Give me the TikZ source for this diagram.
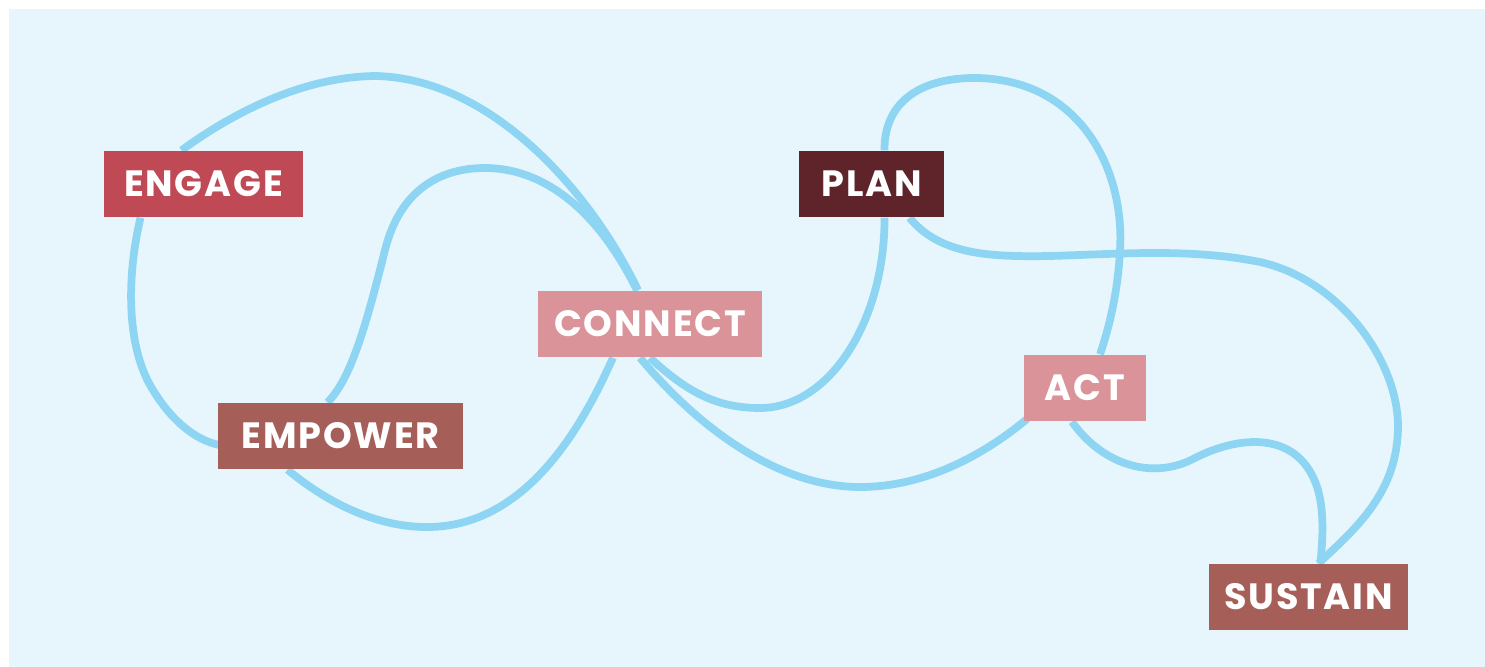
\documentclass[tikz,border=0pt]{standalone}
\usepackage{fontspec}
\newfontfamily\stagefont{Poppins}[LetterSpace=5]
\usetikzlibrary{backgrounds}
\definecolor{bgblue}{HTML}{E7F6FC}
\definecolor{rope}{HTML}{8DD5F2}
\definecolor{engagered}{HTML}{BF4A55}
\definecolor{brickred}{HTML}{A65F58}
\definecolor{rosepink}{HTML}{DA9398}
\definecolor{wine}{HTML}{5E242A}
\tikzset{%
  % Specifications for style of nodes:
  stage/.style = {rectangle, text=white, minimum height=0.66cm,
                  inner xsep=0pt, inner ysep=0pt,
                  font=\stagefont\bfseries\fontsize{10.4}{12}\selectfont},
  % the light blue rope behind them
  strand/.style = {draw=rope, line width=2.2pt},
}
\begin{document}
\begin{tikzpicture}[x=0.01cm, y=-0.01cm]
  \useasboundingbox (0,0) rectangle (1485,667);
  % Specification of nodes (position, etc.)
  \node (engage)  [stage, fill=engagered, minimum width=1.99cm] at (203.5,184) {ENGAGE};
  \node (empower) [stage, fill=brickred,  minimum width=2.45cm] at (340.5,436) {EMPOWER};
  \node (connect) [stage, fill=rosepink,  minimum width=2.24cm] at (650,324)   {CONNECT};
  \node (plan)    [stage, fill=wine,      minimum width=1.45cm] at (871.5,184) {PLAN};
  \node (act)     [stage, fill=rosepink,  minimum width=1.22cm] at (1085,388)  {ACT};
  \node (sustain) [stage, fill=brickred,  minimum width=1.99cm] at (1308.5,597) {SUSTAIN};

  \begin{pgfonlayer}{background}
  \fill[bgblue] (9,9) rectangle (1485,667);
  % Specification of the rope between nodes
  \draw[strand] ([shift={(-22,0)}]engage.north) .. controls (230,115) and (300,77) .. (375,76)
     .. controls (490,78) and (590,190) .. ([shift={(-12,0)}]connect.north);
  \draw[strand] ([shift={(-63,0)}]engage.south) .. controls (128,270) and (125,340) .. (150,385)
     .. controls (170,420) and (195,440) .. ([shift={(2,9)}]empower.west);
  \draw[strand] ([shift={(-13,0)}]empower.north) .. controls (350,380) and (365,330) .. (385,250)
     .. controls (400,190) and (440,168) .. (485,168)
     .. controls (540,168) and (595,205) .. ([shift={(-13,0)}]connect.north);
  \draw[strand] ([shift={(-53,0)}]empower.south) .. controls (330,505) and (380,528) .. (430,527)
     .. controls (530,525) and (585,420) .. ([shift={(-37,0)}]connect.south);
  \draw[strand] (connect.south) .. controls (690,395) and (720,408) .. (760,408)
     .. controls (830,408) and (885,320) .. ([shift={(13,0)}]plan.south);
  \draw[strand] ([shift={(-10,0)}]connect.south) .. controls (700,430) and (780,487) .. (860,487)
     .. controls (930,487) and (990,450) .. ([shift={(4,-3)}]act.south west);
  \draw[strand] ([shift={(13,0)}]plan.north) .. controls (884,110) and (910,80) .. (970,78)
     .. controls (1080,76) and (1125,170) .. (1120,250)
     .. controls (1118,290) and (1110,325) .. ([shift={(15,0)}]act.north);
  \draw[strand] ([shift={(38,0)}]plan.south) .. controls (940,255) and (990,257) .. (1050,256)
     .. controls (1120,254) and (1190,248) .. (1260,262)
     .. controls (1340,280) and (1397,360) .. (1398,425)
     .. controls (1398,490) and (1360,525) .. ([shift={(10,0)}]sustain.north);
  \draw[strand] ([shift={(-13,0)}]act.south) .. controls (1100,462) and (1150,482) .. (1195,458)
     .. controls (1240,435) and (1300,430) .. (1318,490)
     .. controls (1325,515) and (1322,545) .. ([shift={(12,0)}]sustain.north);
  \end{pgfonlayer}
\end{tikzpicture}
\end{document}
